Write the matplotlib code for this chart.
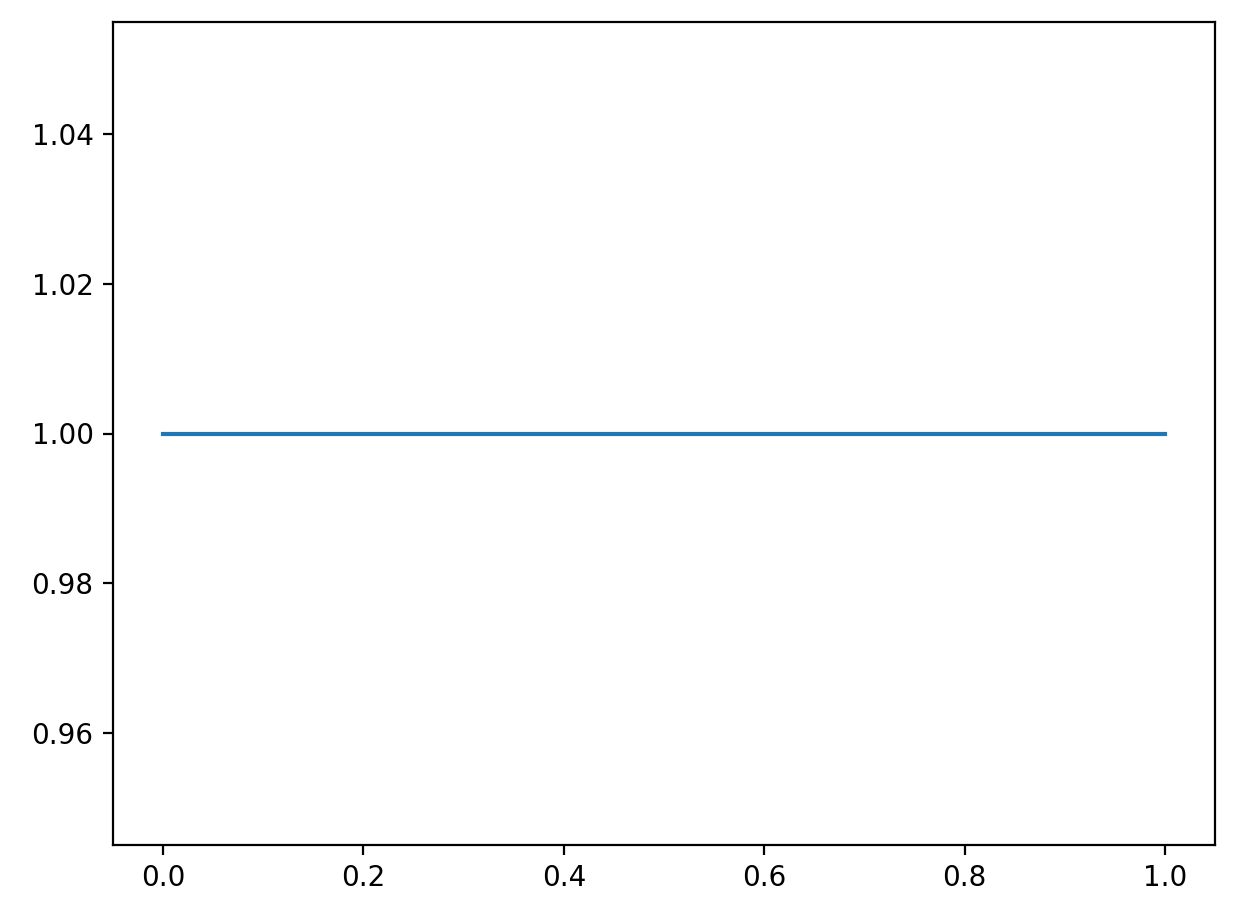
import matplotlib
matplotlib.use("Agg")
import matplotlib.pyplot as plt

x = [0.0, 1.0]
y = [1.0, 1.0]

W, H = 1235, 917
fig = plt.figure(figsize=(W / 200, H / 200), dpi=200)
ax = fig.add_axes([113 / W, 1 - 845 / H, (1215 - 113) / W, (845 - 22) / H])
ax.plot(x, y)
fig.savefig("out.png", dpi=200)
